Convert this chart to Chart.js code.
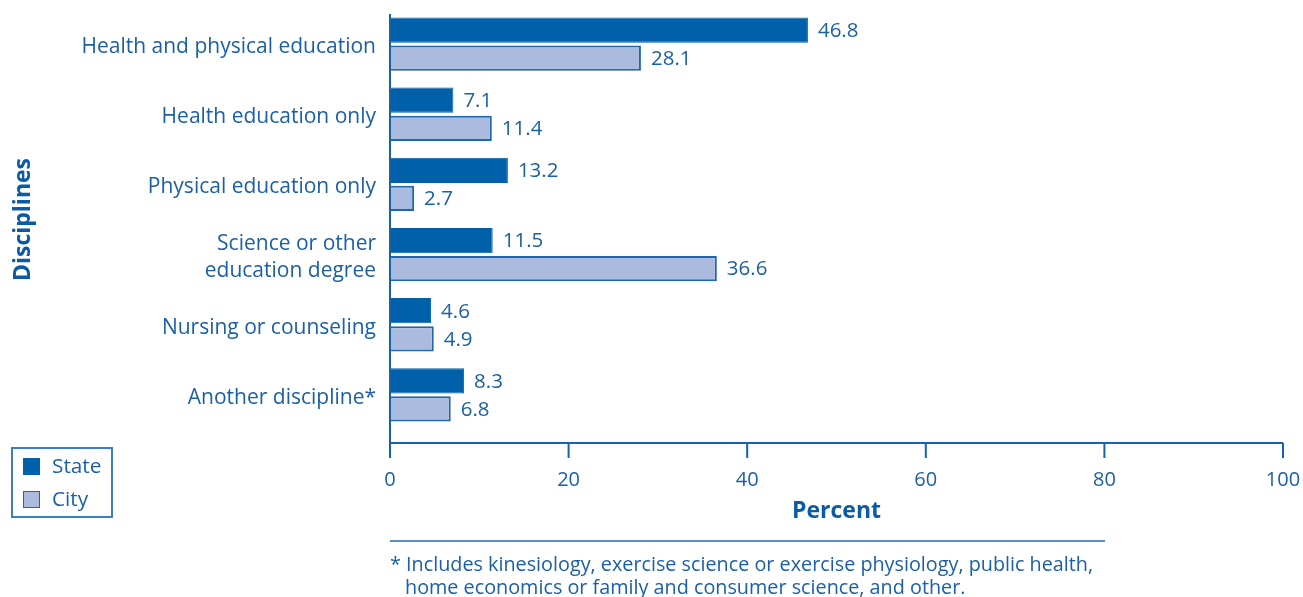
<!DOCTYPE html>
<html>
<head>
<meta charset="utf-8">
<script src="https://cdn.jsdelivr.net/npm/chart.js@4.4.1/dist/chart.umd.min.js"></script>
<style>
    body { margin: 0; background: #fff; font-family: "Open Sans", sans-serif; color: #1b5fa6; }
    #wrap { position: relative; width: 1303px; height: 597px; }
    #legend {
        position: absolute; left: 11px; top: 447px; width: 98px; height: 67px;
        border: 2px solid #3b7fc2; padding: 0;
    }
    .legend-item { position: absolute; left: 10px; font-size: 20.8px; line-height: 22px; }
    .legend-item span { display: inline-block; width: 17px; height: 17px; margin-right: 12px; vertical-align: -2px; box-sizing: border-box; }
    #footnote { position: absolute; left: 390px; top: 540px; width: 715px; border-top: 2px solid #5b8ec8; font-size: 19.8px; line-height: 23px; padding-top: 10px; }
    #footnote div.second { padding-left: 15px; }
</style>
</head>
<body>
<div id="wrap">
    <canvas id="chart" width="1303" height="597"></canvas>
    <div id="legend"></div>
    <div id="footnote">
        <div>* Includes kinesiology, exercise science or exercise physiology, public health,</div>
        <div class="second">home economics or family and consumer science, and other.</div>
    </div>
</div>
<script>
const categories = [
    "Health and physical education",
    "Health education only",
    "Physical education only",
    ["Science or other", "education degree"],
    "Nursing or counseling",
    "Another discipline*"
];
const stateValues = [46.8, 7.1, 13.2, 11.5, 4.6, 8.3];
const cityValues = [28.1, 11.4, 2.7, 36.6, 4.9, 6.8];
const xTicks = [0, 20, 40, 60, 80, 100];

const textBlue = '#1b5fa6';
const axisBlue = '#1563ab';

// value labels to the right of each bar
const valueLabels = {
    id: 'valueLabels',
    afterDatasetsDraw(chart) {
        const ctx = chart.ctx;
        ctx.save();
        ctx.font = '20.5px "Open Sans"';
        ctx.fillStyle = textBlue;
        ctx.textBaseline = 'middle';
        chart.data.datasets.forEach((ds, i) => {
            chart.getDatasetMeta(i).data.forEach((bar, j) => {
                ctx.fillText(ds.data[j].toFixed(1), bar.x + 10, bar.y + 1);
            });
        });
        ctx.restore();
    }
};

// x axis line sits a bit below the last bar, ticks hang down from it
const axisLines = {
    id: 'axisLines',
    afterDraw(chart) {
        const ctx = chart.ctx;
        const x = chart.scales.x;
        const area = chart.chartArea;
        const lineY = area.bottom + 13;
        ctx.save();
        ctx.strokeStyle = axisBlue;
        ctx.lineWidth = 2;
        ctx.beginPath();
        ctx.moveTo(x.getPixelForValue(0), area.top + 5);
        ctx.lineTo(x.getPixelForValue(0), lineY);
        ctx.lineTo(x.getPixelForValue(100), lineY);
        xTicks.forEach(t => {
            const px = x.getPixelForValue(t);
            ctx.moveTo(px, lineY);
            ctx.lineTo(px, lineY + 15);
        });
        ctx.stroke();
        ctx.restore();
    }
};

const chart = new Chart(document.getElementById('chart'), {
    type: 'bar',
    data: {
        labels: categories,
        datasets: [
            {
                label: 'State',
                data: stateValues,
                backgroundColor: '#0060aa',
                borderColor: '#0060aa',
                borderWidth: 1,
                categoryPercentage: 0.8,
                barPercentage: 0.9
            },
            {
                label: 'City',
                data: cityValues,
                backgroundColor: '#aabbdd',
                borderColor: '#1e67ae',
                borderWidth: 2,
                categoryPercentage: 0.8,
                barPercentage: 0.9
            }
        ]
    },
    options: {
        indexAxis: 'y',
        responsive: false,
        animation: false,
        layout: { padding: { top: 9, right: 20, left: 0, bottom: 72 } },
        plugins: {
            legend: { display: false },
            tooltip: { enabled: false }
        },
        scales: {
            x: {
                min: 0,
                max: 100,
                afterBuildTicks: scale => { scale.ticks = xTicks.map(v => ({ value: v })); },
                afterFit: scale => {
                    scale.height = 95;
                    scale.paddingLeft = 0;
                    scale.paddingRight = 0;
                },
                grid: { display: false, drawTicks: false },
                border: { display: false },
                ticks: { padding: 38, color: textBlue, font: { family: 'Open Sans', size: 20 } },
                title: {
                    display: true,
                    text: 'Percent',
                    color: '#0b5aa5',
                    font: { family: 'Open Sans', size: 23, weight: 'bold' },
                    padding: { top: 7, bottom: 0 }
                }
            },
            y: {
                afterFit: scale => {
                    scale.width = 390;
                    scale.paddingTop = 0;
                    scale.paddingBottom = 0;
                },
                grid: { display: false, drawTicks: false },
                border: { display: false },
                ticks: {
                    padding: 14,
                    labelOffset: 3,
                    color: textBlue,
                    font: { family: 'Open Sans', size: 21, lineHeight: 1.25 }
                },
                title: {
                    display: true,
                    text: 'Disciplines',
                    color: '#0b5aa5',
                    font: { family: 'Open Sans', size: 23, weight: 'bold' },
                    padding: { top: 10, bottom: 0 }
                }
            }
        }
    },
    plugins: [valueLabels, axisLines]
});

// legend box built from the datasets
const legend = document.getElementById('legend');
chart.data.datasets.forEach((ds, i) => {
    const item = document.createElement('div');
    item.className = 'legend-item';
    item.style.top = (i === 0 ? 5 : 38) + 'px';
    const sw = document.createElement('span');
    sw.style.background = ds.backgroundColor;
    sw.style.border = '1px solid ' + ds.borderColor;
    item.appendChild(sw);
    item.append(ds.label);
    legend.appendChild(item);
});
</script>
</body>
</html>
